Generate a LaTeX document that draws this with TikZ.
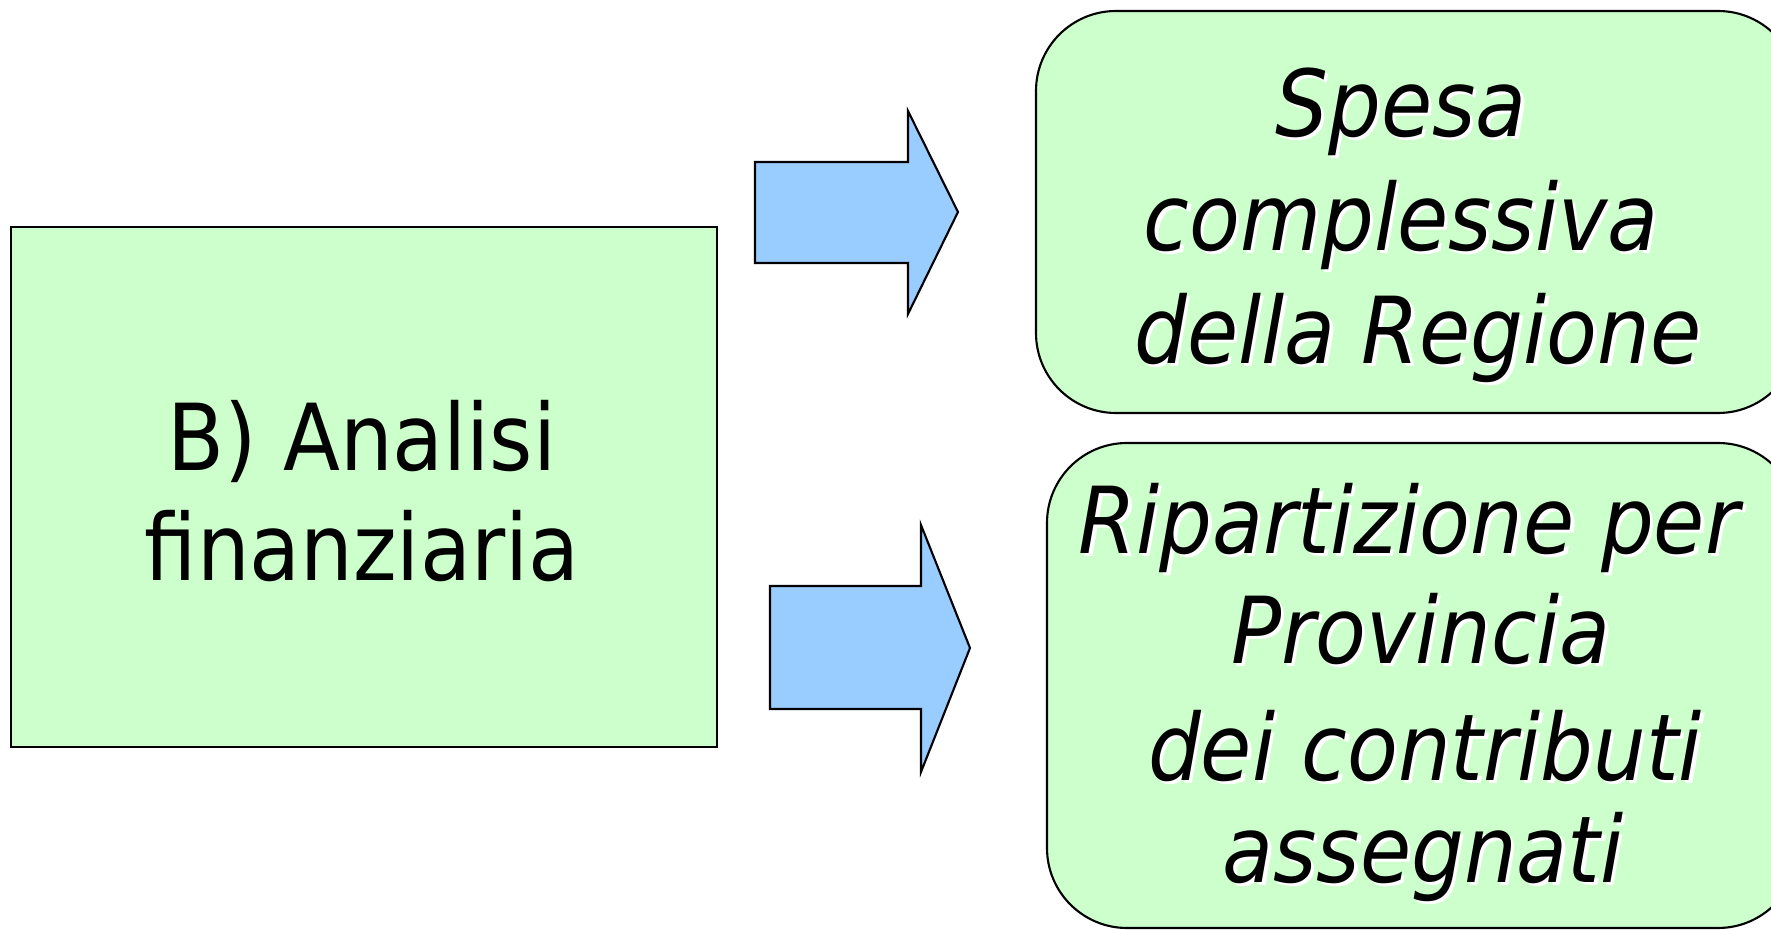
\documentclass[tikz,border=0pt]{standalone}
\usepackage{fontspec}
\setmainfont{DejaVu Sans Condensed}
\usetikzlibrary{positioning}
\definecolor{boxgreen}{HTML}{CCFFCC}
\definecolor{arrowblue}{HTML}{99CCFF}
\tikzset{
    panel/.style={draw=black, line width=0.6pt, fill=boxgreen},
    bigarrow/.style={draw=black, line width=0.6pt, fill=arrowblue},
    maintxt/.style={anchor=base, inner sep=0pt, font=\fontsize{26.3}{31}\selectfont},
    linetxt/.style={anchor=base, inner sep=0pt, font=\fontsize{26.3}{31}\selectfont\itshape},
}
\begin{document}
\begin{tikzpicture}
    \useasboundingbox (0,0) rectangle (17.71,-9.30);
    \clip (0,0) rectangle (17.71,-9.30);

    % Left box
    \node[panel, minimum width=7.06cm, minimum height=5.20cm, inner sep=0pt] (analisi) at (3.64,-4.87) {};
    \node[maintxt] (analisi1) at (3.62,-4.71) {B) Analisi};
    \node[maintxt] (analisi2) at (3.62,-5.81) {finanziaria};

    % Block arrows
    \draw[bigarrow] (7.55,-1.62) -- (9.08,-1.62) -- (9.08,-1.11) -- (9.58,-2.12)
        -- (9.08,-3.14) -- (9.08,-2.63) -- (7.55,-2.63) -- cycle;
    \draw[bigarrow] (7.70,-5.86) -- (9.21,-5.86) -- (9.21,-5.25) -- (9.70,-6.48)
        -- (9.21,-7.72) -- (9.21,-7.09) -- (7.70,-7.09) -- cycle;

    % Right boxes
    \draw[panel, rounded corners=0.8cm] (10.36,-0.11) rectangle (17.98,-4.13);
    \draw[panel, rounded corners=0.8cm] (10.47,-4.43) rectangle (17.98,-9.28);

    % Texts with shadow
    \foreach \x/\y/\txt [count=\i] in {14.01/-1.37/Spesa, 14.01/-2.51/complessiva, 14.18/-3.64/della Regione} {
        \node[linetxt, white] at (\x+0.035,\y-0.03) {\txt};
        \node[linetxt] (spesa\i) at (\x,\y) {\txt};
    }
    \foreach \x/\y/\txt [count=\i] in {14.09/-5.54/Ripartizione per, 14.21/-6.64/Provincia, 14.25/-7.81/dei contributi, 14.23/-8.83/assegnati} {
        \node[linetxt, white] at (\x+0.035,\y-0.03) {\txt};
        \node[linetxt] (riparto\i) at (\x,\y) {\txt};
    }
\end{tikzpicture}
\end{document}
